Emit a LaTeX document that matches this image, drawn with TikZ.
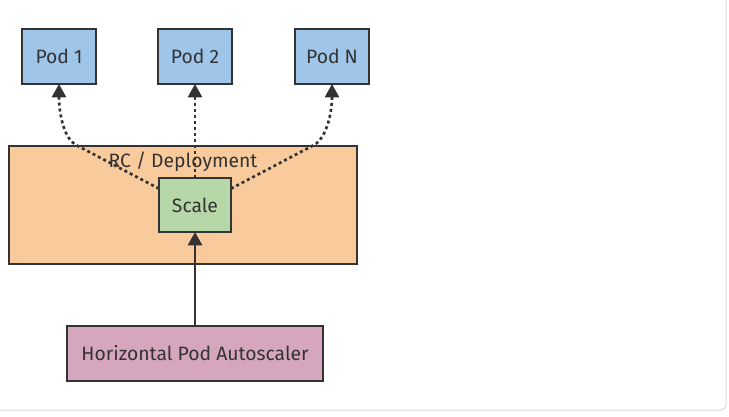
\documentclass[tikz,border=0pt]{standalone}
\usepackage{fontspec}
\setmainfont{Fira Sans}
\usetikzlibrary{arrows.meta}

\definecolor{podblauw}{HTML}{9FC5E8}
\definecolor{rcoranje}{HTML}{F9CB9C}
\definecolor{scalegroen}{HTML}{B6D7A8}
\definecolor{hparoze}{HTML}{D5A6BD}
\definecolor{rand}{HTML}{333333}
\definecolor{kader}{HTML}{DCDCDC}

\begin{document}
\begin{tikzpicture}[x=0.75pt, y=-0.75pt,
  box/.style={draw=rand, line width=1pt, inner sep=0pt, outer sep=0pt,
    text=rand, font=\fontsize{14.5}{16}\selectfont},
  pod/.style={box, fill=podblauw, minimum width=55.5pt, minimum height=41.25pt},
  pijl/.style={draw=rand, line width=2pt, -{Triangle[length=10pt,width=10.5pt]}},
  stippel/.style={pijl, dash pattern=on 2.25pt off 2.25pt}]
  \useasboundingbox (0,0) rectangle (729,417);

  % kader
  \begin{scope}
    \clip (0,0) rectangle (729,417);
    \draw[kader, line width=0.75pt, rounded corners=4pt] (-20,-20) rectangle (726,410);
  \end{scope}

  % pods
  \node[pod] (p1) at (59,56.5) {Pod 1};
  \node[pod] (p2) at (195,56.5) {Pod 2};
  \node[pod] (pn) at (332,56.5) {Pod N};

  % rc / deployment
  \node[box, fill=rcoranje, minimum width=261pt, minimum height=88.5pt] (rc) at (183,205) {};
  \node[text=rand, font=\fontsize{14.5}{16}\selectfont] (rclabel) at (183,162) {RC / Deployment};

  % scale en hpa
  \node[box, fill=scalegroen, minimum width=54pt, minimum height=40.5pt] (sc) at (195,205) {Scale};
  \node[box, fill=hparoze, minimum width=192pt, minimum height=41.25pt] (hpa) at (195,353.5) {Horizontal Pod Autoscaler};

  % knikpunten
  \coordinate (k1) at (76,145);
  \coordinate (kn) at (314,145);

  % pijlen
  \draw[pijl] (hpa.north) -- (sc.south);
  \draw[stippel] (sc.north) -- (p2.south);
  \draw[stippel] ([yshift=-8pt]sc.north west) -- (k1) .. controls +(-12,-6.5) and +(0,30) .. (p1.south);
  \draw[stippel] ([yshift=-8pt]sc.north east) -- (kn) .. controls +(12,-6.5) and +(0,30) .. (pn.south);
\end{tikzpicture}
\end{document}
